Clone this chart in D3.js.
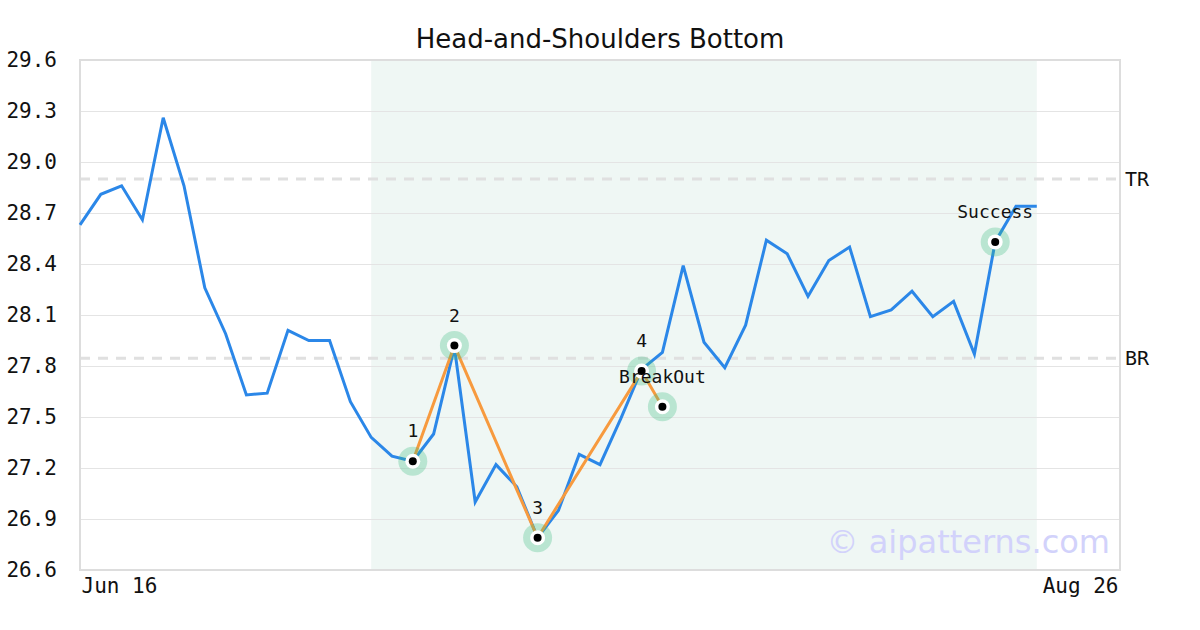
<!DOCTYPE html>
<html><head><meta charset="utf-8">
<script src="https://cdn.jsdelivr.net/npm/d3@7"></script>
<style>body{margin:0;background:#fff}svg{display:block}</style>
</head><body>
<svg id="c" width="1200" height="630"></svg>
<script>
const title = "Head-and-Shoulders Bottom";
const prices = [28.63,28.81,28.86,28.66,29.26,28.86,28.26,27.99,27.63,27.64,28.01,27.95,27.95,27.59,27.38,27.27,27.24,27.40,27.91,27.00,27.22,27.09,26.79,26.95,27.28,27.22,27.49,27.78,27.88,28.39,27.94,27.79,28.04,28.54,28.46,28.21,28.42,28.50,28.09,28.13,28.24,28.09,28.18,27.87,28.53,28.74,28.74];
const xDomain = [0, 50];
const xTickIdx = [0, 50];
const xTickLabels = ["Jun 16", "Aug 26"];
const yTicks = [26.6,26.9,27.2,27.5,27.8,28.1,28.4,28.7,29.0,29.3,29.6];
const shadeRange = [14, 46];
const patternIdx = [16, 18, 22, 27, 28];
const patternVal = [27.24, 27.92, 26.79, 27.77, 27.56];
const markerIdx = [16, 18, 22, 27, 28, 44];
const markerVal = [27.24, 27.92, 26.79, 27.77, 27.56, 28.53];
const markerLabels = ["1", "2", "3", "4", "BreakOut", "Success"];
const levelNames = ["TR", "BR"];
const levelValues = [28.9, 27.845];
const watermark = "© aipatterns.com";

const svg = d3.select("#c");
const L = 80, R = 1120, T = 60, B = 570;
const x = d3.scaleLinear().domain(xDomain).range([L, R]);
const y = d3.scaleLinear().domain([26.6, 29.6]).range([B, T]);
const mono = "'DejaVu Sans Mono', monospace";

svg.append("text").attr("x", 600).attr("y", 48).attr("text-anchor", "middle")
  .attr("font-family", "'DejaVu Sans', sans-serif").attr("font-size", 26).attr("fill", "#111").text(title);

// shading
svg.append("rect").attr("x", x(shadeRange[0])).attr("y", T)
  .attr("width", x(shadeRange[1]) - x(shadeRange[0])).attr("height", B - T).attr("fill", "#eff7f4");

// grid
const yAxis = d3.axisLeft(y).tickValues(yTicks).tickFormat(d3.format(".1f")).tickSize(-(R - L)).tickPadding(23);
const gy = svg.append("g").attr("transform", `translate(${L},0)`).call(yAxis);
gy.select(".domain").remove();
gy.selectAll(".tick line").attr("stroke", "#e4e4e4").attr("stroke-width", 1);
gy.selectAll(".tick text").attr("font-family", mono).attr("font-size", 21).attr("fill", "#111");

const xAxis = d3.axisBottom(x).tickValues(xTickIdx).tickFormat((d, i) => xTickLabels[i]).tickSize(0).tickPadding(8);
const gx = svg.append("g").attr("transform", `translate(0,${B})`).call(xAxis);
gx.select(".domain").remove();
gx.selectAll(".tick text").attr("font-family", mono).attr("font-size", 21).attr("fill", "#111")
  .attr("text-anchor", (d, i) => i === 0 ? "start" : "end")
  .attr("dx", (d, i) => i === 0 ? 1 : -2);

// levels
levelValues.forEach((v, i) => {
  svg.append("line").attr("x1", L).attr("x2", R).attr("y1", y(v)).attr("y2", y(v))
    .attr("stroke", "#e0e0e0").attr("stroke-width", 3).attr("stroke-dasharray", "10,8");
  svg.append("text").attr("x", R + 5).attr("y", y(v)).attr("dy", "0.35em")
    .attr("font-family", mono).attr("font-size", 20).attr("fill", "#111").text(levelNames[i]);
});

// watermark
svg.append("text").attr("x", 1110).attr("y", 553).attr("text-anchor", "end")
  .attr("font-family", "'DejaVu Sans', sans-serif").attr("font-size", 32).attr("fill", "#d2d2fb").text(watermark);

// border
svg.append("rect").attr("x", L).attr("y", T).attr("width", R - L).attr("height", B - T)
  .attr("fill", "none").attr("stroke", "#dddddd").attr("stroke-width", 2);

// price line
const line = d3.line().x((d, i) => x(i)).y(d => y(d));
svg.append("path").datum(prices).attr("d", line).attr("fill", "none")
  .attr("stroke", "#2b87e8").attr("stroke-width", 3).attr("stroke-linejoin", "miter");

// pattern line
const pline = d3.line().x((d, i) => x(patternIdx[i])).y(d => y(d));
svg.append("path").datum(patternVal).attr("d", pline).attr("fill", "none")
  .attr("stroke", "#f79a3e").attr("stroke-width", 3);

// markers
const mk = svg.append("g").selectAll("g").data(markerVal).join("g")
  .attr("transform", (d, i) => `translate(${x(markerIdx[i])},${y(d)})`);
mk.append("circle").attr("r", 14.5).attr("fill", "rgba(60,190,130,0.3)");
mk.append("circle").attr("r", 7.5).attr("fill", "#fff");
mk.append("circle").attr("r", 4).attr("fill", "#000");
mk.append("text").attr("y", -24).attr("text-anchor", "middle")
  .attr("font-family", mono).attr("font-size", 18).attr("fill", "#111")
  .text((d, i) => markerLabels[i]);
</script>
</body></html>
